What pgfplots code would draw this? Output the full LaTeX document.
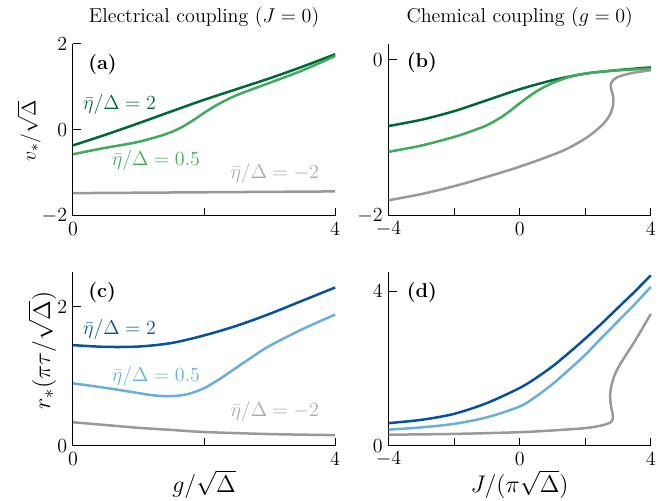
\documentclass[border=0pt]{standalone}
\usepackage{pgfplots}
\pgfplotsset{compat=1.18}
\usepackage{amsmath}

\definecolor{gdark}{HTML}{006837}
\definecolor{glight}{HTML}{41AB5D}
\definecolor{bdark}{HTML}{08519C}
\definecolor{blight}{HTML}{6BAED6}
\definecolor{cgray}{HTML}{999999}
\definecolor{lgray}{HTML}{AAAAAA}

\pgfplotsset{
  panel/.style={
    scale only axis,
    width=157pt,
    axis x line*=bottom,
    axis y line*=left,
    axis line style={-, line width=0.6pt},
    tick align=inside,
    major tick length=5pt,
    tick style={black, line width=0.6pt},
    ticklabel style={font=\large},
    xlabel style={font=\fontsize{14}{17}\selectfont, at={(axis description cs:0.5,-0.222)}, anchor=center},
    title style={font=\large, at={(axis description cs:0.5,1)}, anchor=center, yshift=10pt},
    clip=false,
  },
  curve/.style={line width=1.5pt, smooth},
}
\tikzset{
  lbl/.style={anchor=west, inner sep=0, font=\large},
  panlbl/.style={anchor=west, inner sep=0, font=\large\bfseries},
}

\begin{document}
\begin{tikzpicture}

% (a) electrical coupling, v
\begin{axis}[panel, name=a, at={(0,137.7pt)}, height=103pt,
  xmin=0, xmax=4, ymin=-2, ymax=2,
  xtick={0,2,4}, xticklabels={0,,4},
  ytick={-2,0,2},
  ylabel={$v_*/\sqrt{\Delta}$},
  ylabel style={font=\fontsize{12.5}{15}\selectfont, at={(axis description cs:-0.168,0.494)}, anchor=center},
  title={Electrical coupling ($J=0$)},
]
\addplot[curve, gdark] coordinates {
(0,-0.36)(0.5,-0.11)(1,0.155)(1.5,0.43)(2,0.70)(2.5,0.95)(3,1.20)(3.5,1.47)(4,1.76)};
\addplot[curve, glight] coordinates {
(0,-0.566)(0.46,-0.426)(0.97,-0.287)(1.38,-0.116)(1.63,0.04)(1.84,0.23)(1.99,0.385)(2.19,0.575)(2.5,0.81)(3.01,1.10)(3.52,1.395)(4,1.72)};
\addplot[curve, cgray] coordinates {
(0,-1.47)(1,-1.46)(2,-1.45)(3,-1.44)(4,-1.43)};
\node[lbl, gdark] at (axis cs:0.15,0.60) {$\bar\eta/\Delta=2$};
\node[lbl, glight] at (axis cs:0.59,-0.70) {$\bar\eta/\Delta=0.5$};
\node[lbl, lgray] at (axis cs:2.40,-1.02) {$\bar\eta/\Delta=-2$};
\node[panlbl] at (rel axis cs:0.057,0.878) {(a)};
\end{axis}

% (b) chemical coupling, v
\begin{axis}[panel, name=b, at={(189pt,137.7pt)}, height=103pt,
  xmin=-4, xmax=4, ymin=-2, ymax=0.2,
  xtick={-4,-2,0,2,4}, xticklabels={$-4$,,0,,4},
  ytick={-2,0},
  title={Chemical coupling ($g=0$)},
]
\addplot[curve, gdark] coordinates {
(-4,-0.85)(-3,-0.77)(-2,-0.66)(-1,-0.52)(0,-0.38)(1,-0.265)(2,-0.18)(3,-0.135)(4,-0.10)};
\addplot[curve, glight] coordinates {
(-4,-1.18)(-3,-1.10)(-2,-0.99)(-1.5,-0.92)(-1,-0.84)(-0.5,-0.72)(0,-0.56)(0.5,-0.41)(1,-0.30)(1.5,-0.225)(2,-0.18)(2.5,-0.155)(3,-0.138)(4,-0.115)};
\addplot[curve, cgray] coordinates {
(-4,-1.80)(-3,-1.72)(-2,-1.62)(-1,-1.50)(0,-1.37)(1,-1.22)(1.5,-1.13)(2,-1.01)(2.35,-0.90)(2.6,-0.80)(2.75,-0.71)(2.83,-0.62)(2.86,-0.53)(2.84,-0.45)(2.79,-0.38)(2.78,-0.32)(2.84,-0.27)(2.98,-0.225)(3.29,-0.185)(3.59,-0.16)(4,-0.137)};
\node[panlbl] at (rel axis cs:0.068,0.89) {(b)};
\end{axis}

% (c) electrical coupling, r
\begin{axis}[panel, name=c, at={(0,0)}, height=104pt,
  xmin=0, xmax=4, ymin=0, ymax=2.5,
  xtick={0,2,4}, xticklabels={0,,4},
  ytick={0,2},
  xlabel={$g/\sqrt{\Delta}$},
  ylabel={$r_*(\pi\tau/\sqrt{\Delta})$},
  ylabel style={font=\fontsize{15}{18}\selectfont, at={(axis description cs:-0.118,0.55)}, anchor=center},
]
\addplot[curve, bdark] coordinates {
(0,1.45)(0.5,1.425)(1,1.43)(1.5,1.48)(2,1.59)(2.5,1.73)(3,1.90)(3.5,2.09)(4,2.28)};
\addplot[curve, blight] coordinates {
(0,0.90)(0.5,0.835)(1,0.76)(1.25,0.725)(1.5,0.715)(1.75,0.745)(2,0.83)(2.25,0.97)(2.5,1.13)(2.75,1.29)(3,1.44)(3.5,1.68)(4,1.89)};
\addplot[curve, cgray] coordinates {
(0,0.34)(0.5,0.30)(1,0.26)(1.5,0.23)(2,0.20)(3,0.17)(4,0.155)};
\node[lbl, bdark] at (axis cs:0.15,1.68) {$\bar\eta/\Delta=2$};
\node[lbl, blight] at (axis cs:0.59,1.00) {$\bar\eta/\Delta=0.5$};
\node[lbl, lgray] at (axis cs:2.40,0.49) {$\bar\eta/\Delta=-2$};
\node[panlbl] at (rel axis cs:0.057,0.885) {(c)};
\end{axis}

% (d) chemical coupling, r
\begin{axis}[panel, name=d, at={(189pt,0)}, height=104pt,
  xmin=-4, xmax=4, ymin=0, ymax=4.5,
  xtick={-4,-2,0,2,4}, xticklabels={$-4$,,0,,4},
  ytick={0,4},
  xlabel={$J/(\pi\sqrt{\Delta})$},
]
\addplot[curve, bdark] coordinates {
(-4,0.59)(-3,0.675)(-2,0.83)(-1,1.11)(0,1.50)(0.5,1.76)(1,2.06)(1.5,2.41)(2,2.78)(2.5,3.17)(3,3.58)(3.5,3.99)(4,4.42)};
\addplot[curve, blight] coordinates {
(-4,0.42)(-3,0.48)(-2,0.57)(-1,0.74)(0,1.02)(0.5,1.28)(1,1.60)(1.5,1.97)(2,2.36)(2.5,2.80)(3,3.23)(3.5,3.66)(4,4.12)};
\addplot[curve, cgray] coordinates {
(-4,0.29)(-2,0.31)(0,0.355)(1,0.40)(2,0.46)(2.5,0.53)(2.68,0.575)(2.79,0.62)(2.84,0.69)(2.84,0.80)(2.81,0.93)(2.78,1.08)(2.76,1.25)(2.77,1.42)(2.81,1.6)(2.89,1.82)(3.02,2.05)(3.2,2.3)(3.45,2.63)(3.7,2.98)(4,3.42)};
\node[panlbl] at (rel axis cs:0.068,0.885) {(d)};
\end{axis}

\pgfresetboundingbox
\path[use as bounding box] (-43.7pt,-32.9pt) rectangle (356.3pt,267pt);
\end{tikzpicture}
\end{document}
